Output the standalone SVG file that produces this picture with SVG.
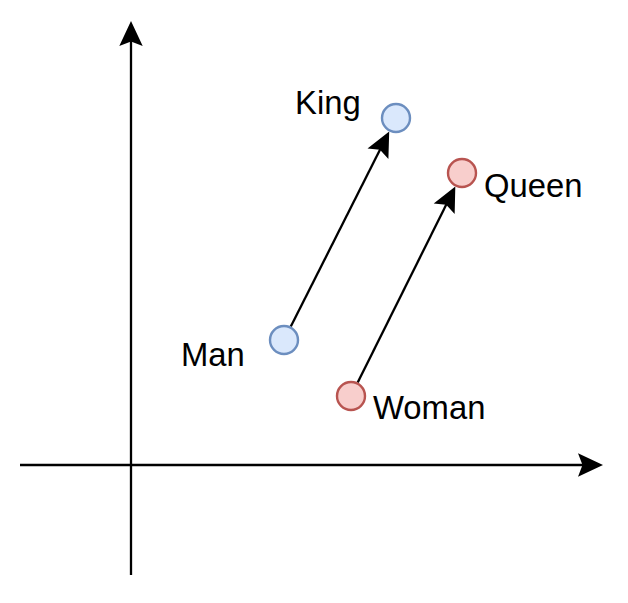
<svg xmlns="http://www.w3.org/2000/svg" width="628" height="603" viewBox="0 0 628 603">
<style>
.ax{stroke:#000;stroke-width:2.3;fill:none}
.blue{fill:#dae8fc;stroke:#6c8ebf;stroke-width:2.4}
.red{fill:#f8cecc;stroke:#b85450;stroke-width:2.4}
text{font-family:"Liberation Sans",Arial,sans-serif;font-size:32.8px;fill:#000}
</style>
<defs>
<marker id="ah" markerUnits="userSpaceOnUse" markerWidth="40" markerHeight="40" refX="-18" refY="0" orient="auto" overflow="visible">
<path d="M0,0 L-25,-11.7 L-20.5,0 L-25,11.7 Z" fill="#000"/>
</marker>
</defs>
<g id="connectors">
<line id="y-axis" class="ax" x1="131" y1="575" x2="131" y2="39" marker-end="url(#ah)"/>
<line id="x-axis" class="ax" x1="20" y1="465" x2="585" y2="465" marker-end="url(#ah)"/>
<line id="man-king" class="ax" x1="290.8" y1="326.6" x2="381.1" y2="147.5" marker-end="url(#ah)"/>
<line id="woman-queen" class="ax" x1="357.7" y1="382.6" x2="447.3" y2="202.5" marker-end="url(#ah)"/>
</g>
<g id="king"><circle class="blue" cx="396" cy="118" r="14"/><text x="295" y="114">King</text></g>
<g id="queen"><circle class="red" cx="462" cy="173" r="14"/><text x="484" y="197">Queen</text></g>
<g id="man"><circle class="blue" cx="284" cy="340" r="14"/><text x="181" y="366">Man</text></g>
<g id="woman"><circle class="red" cx="351" cy="396" r="14"/><text x="373" y="419">Woman</text></g>
</svg>
